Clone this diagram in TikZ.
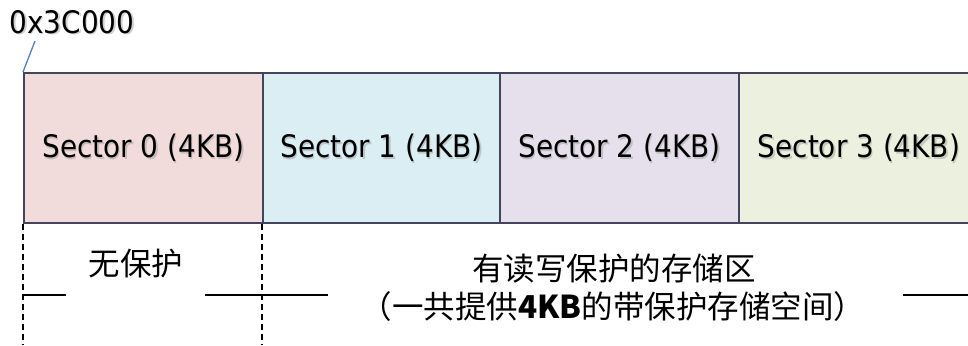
\documentclass[tikz,border=0pt]{standalone}
\usepackage{fontspec}
\setmainfont{DejaVu Sans}[FakeStretch=0.9]
\newfontfamily\cjk{Noto Sans CJK SC}
\definecolor{pinkF}{HTML}{F2DCDB}
\definecolor{blueF}{HTML}{DAEEF3}
\definecolor{lavF}{HTML}{E5E0EC}
\definecolor{greenF}{HTML}{EBF1DE}
\definecolor{edgeC}{HTML}{44445F}
\definecolor{leadC}{HTML}{4F81BD}
\tikzset{
  sectorbox/.style={draw=edgeC, line width=1.8pt, minimum height=150pt, inner sep=0pt, anchor=north west},
  sectortext/.style={font=\fontsize{31}{34}\selectfont, inner sep=0pt},
  shadowtext/.style={font=\fontsize{31}{34}\selectfont, inner sep=0pt, text=black!40, opacity=0.45},
  cjktext/.style={font=\cjk\fontsize{31.5}{36}\selectfont, inner sep=0pt},
  guide/.style={draw=black, line width=1.3pt, dash pattern=on 6pt off 4pt},
  bar/.style={draw=black, line width=1.6pt},
}
\begin{document}
\begin{tikzpicture}[x=1pt, y=-1pt]
\useasboundingbox (0,0) rectangle (968,345);
% sector boxes
\node[sectorbox, fill=pinkF, minimum width=239pt] (s0) at (23,72) {};
\node[sectorbox, fill=blueF, minimum width=237pt] (s1) at (262,72) {};
\node[sectorbox, fill=lavF, minimum width=239pt] (s2) at (499,72) {};
\node[sectorbox, fill=greenF, minimum width=240pt] (s3) at (738,72) {};
% labels with soft shadow
\foreach \n/\t in {s0/Sector 0 (4KB), s1/Sector 1 (4KB), s2/Sector 2 (4KB), s3/Sector 3 (4KB)} {
  \node[shadowtext] at ([xshift=1.5pt, yshift=-1.5pt]\n.center) {\t};
  \node[sectortext] (\n t) at (\n.center) {\t};
}
% address label
\node[shadowtext, anchor=west] at (11,23.5) {0x3C000};
\node[sectortext, anchor=west] (addr) at (9.5,22) {0x3C000};
\coordinate (addrfoot) at (35,41);
\draw[leadC, line width=1.3pt] (addrfoot) -- (s0.north west);
% dashed guides
\coordinate (g0) at (23,345);
\coordinate (g1) at (262,345);
\draw[guide] (s0.south west) -- (g0);
\draw[guide] (s1.south west) -- (g1);
% horizontal bars
\coordinate (b0a) at (23,295); \coordinate (b0b) at (66,295);
\coordinate (b1a) at (205,295); \coordinate (b1b) at (328,295);
\coordinate (b2a) at (903,295); \coordinate (b2b) at (968,295);
\draw[bar] (b0a) -- (b0b);
\draw[bar] (b1a) -- (b1b);
\draw[bar] (b2a) -- (b2b);
% texts
\node[cjktext] (free) at (136,264) {无保护};
\node[cjktext] (prot1) at (614,269) {有读写保护的存储区};
\node[cjktext] (prot2) at (613,307) {（一共提供\textbf{\fontspec{Noto Sans CJK SC}4KB}的带保护存储空间）};
\end{tikzpicture}
\end{document}
